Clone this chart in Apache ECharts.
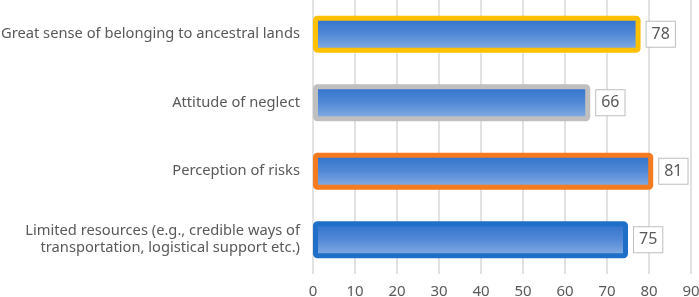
<!DOCTYPE html>
<html lang="en">
  <head>
    <meta charset="UTF-8" />
    <script src="https://cdn.jsdelivr.net/npm/echarts@6/dist/echarts.min.js"></script>
    <title>Barriers</title>
    <style>
      html, body { margin: 0; padding: 0; background: #fff; }
      #app { width: 699px; height: 297px; }
    </style>
  </head>
  <body>
    <div id="app"></div>
    <script>
      // top to bottom, as in the picture
      const categories = [
        "Great sense of belonging to ancestral lands",
        "Attitude of neglect",
        "Perception of risks",
        "Limited resources (e.g., credible ways of\ntransportation, logistical support etc.)",
      ];
      const values = [78, 66, 81, 75];
      const borderColors = ["#FFC000", "#BFBFBF", "#F47B20", "#1F6FC8"];

      const chart = echarts.init(document.getElementById("app"));
      const textColor = "#595959";
      const font = "Noto Sans";

      // blue bar fill, darker at the top
      const fill = new echarts.graphic.LinearGradient(0, 0, 0, 1, [
        { offset: 0, color: "#2C6FCB" },
        { offset: 0.5, color: "#5289D6" },
        { offset: 1, color: "#8EB3E4" },
      ]);

      chart.setOption({
        animation: false,
        grid: { left: 313, right: 8, top: 0, bottom: 23, outerBoundsMode: "none", containLabel: false },
        xAxis: {
          type: "value",
          min: 0,
          max: 90,
          interval: 10,
          axisLine: { show: false },
          axisTick: { show: false },
          splitLine: { lineStyle: { color: "#D9D9D9", width: 1.5 } },
          axisLabel: { color: textColor, fontSize: 15, fontFamily: font, margin: 10 },
        },
        yAxis: {
          type: "category",
          inverse: true,
          data: categories,
          axisLine: { show: false },
          axisTick: { show: false },
          axisLabel: {
            color: textColor,
            fontSize: 14.7,
            fontFamily: font,
            margin: 13,
            lineHeight: 17,
            align: "right",
          },
        },
        series: [
          {
            type: "bar",
            barWidth: 37,
            data: values.map((v, i) => ({
              value: v,
              itemStyle: {
                color: fill,
                borderColor: borderColors[i],
                borderWidth: 5,
                borderRadius: 2,
              },
            })),
            label: {
              show: true,
              position: "right",
              distance: 6,
              color: textColor,
              fontSize: 16,
              fontFamily: font,
              backgroundColor: "#fff",
              borderColor: "#BFBFBF",
              borderWidth: 1,
              padding: [5, 5, 4, 5],
            },
          },
        ],
      });
    </script>
  </body>
</html>
